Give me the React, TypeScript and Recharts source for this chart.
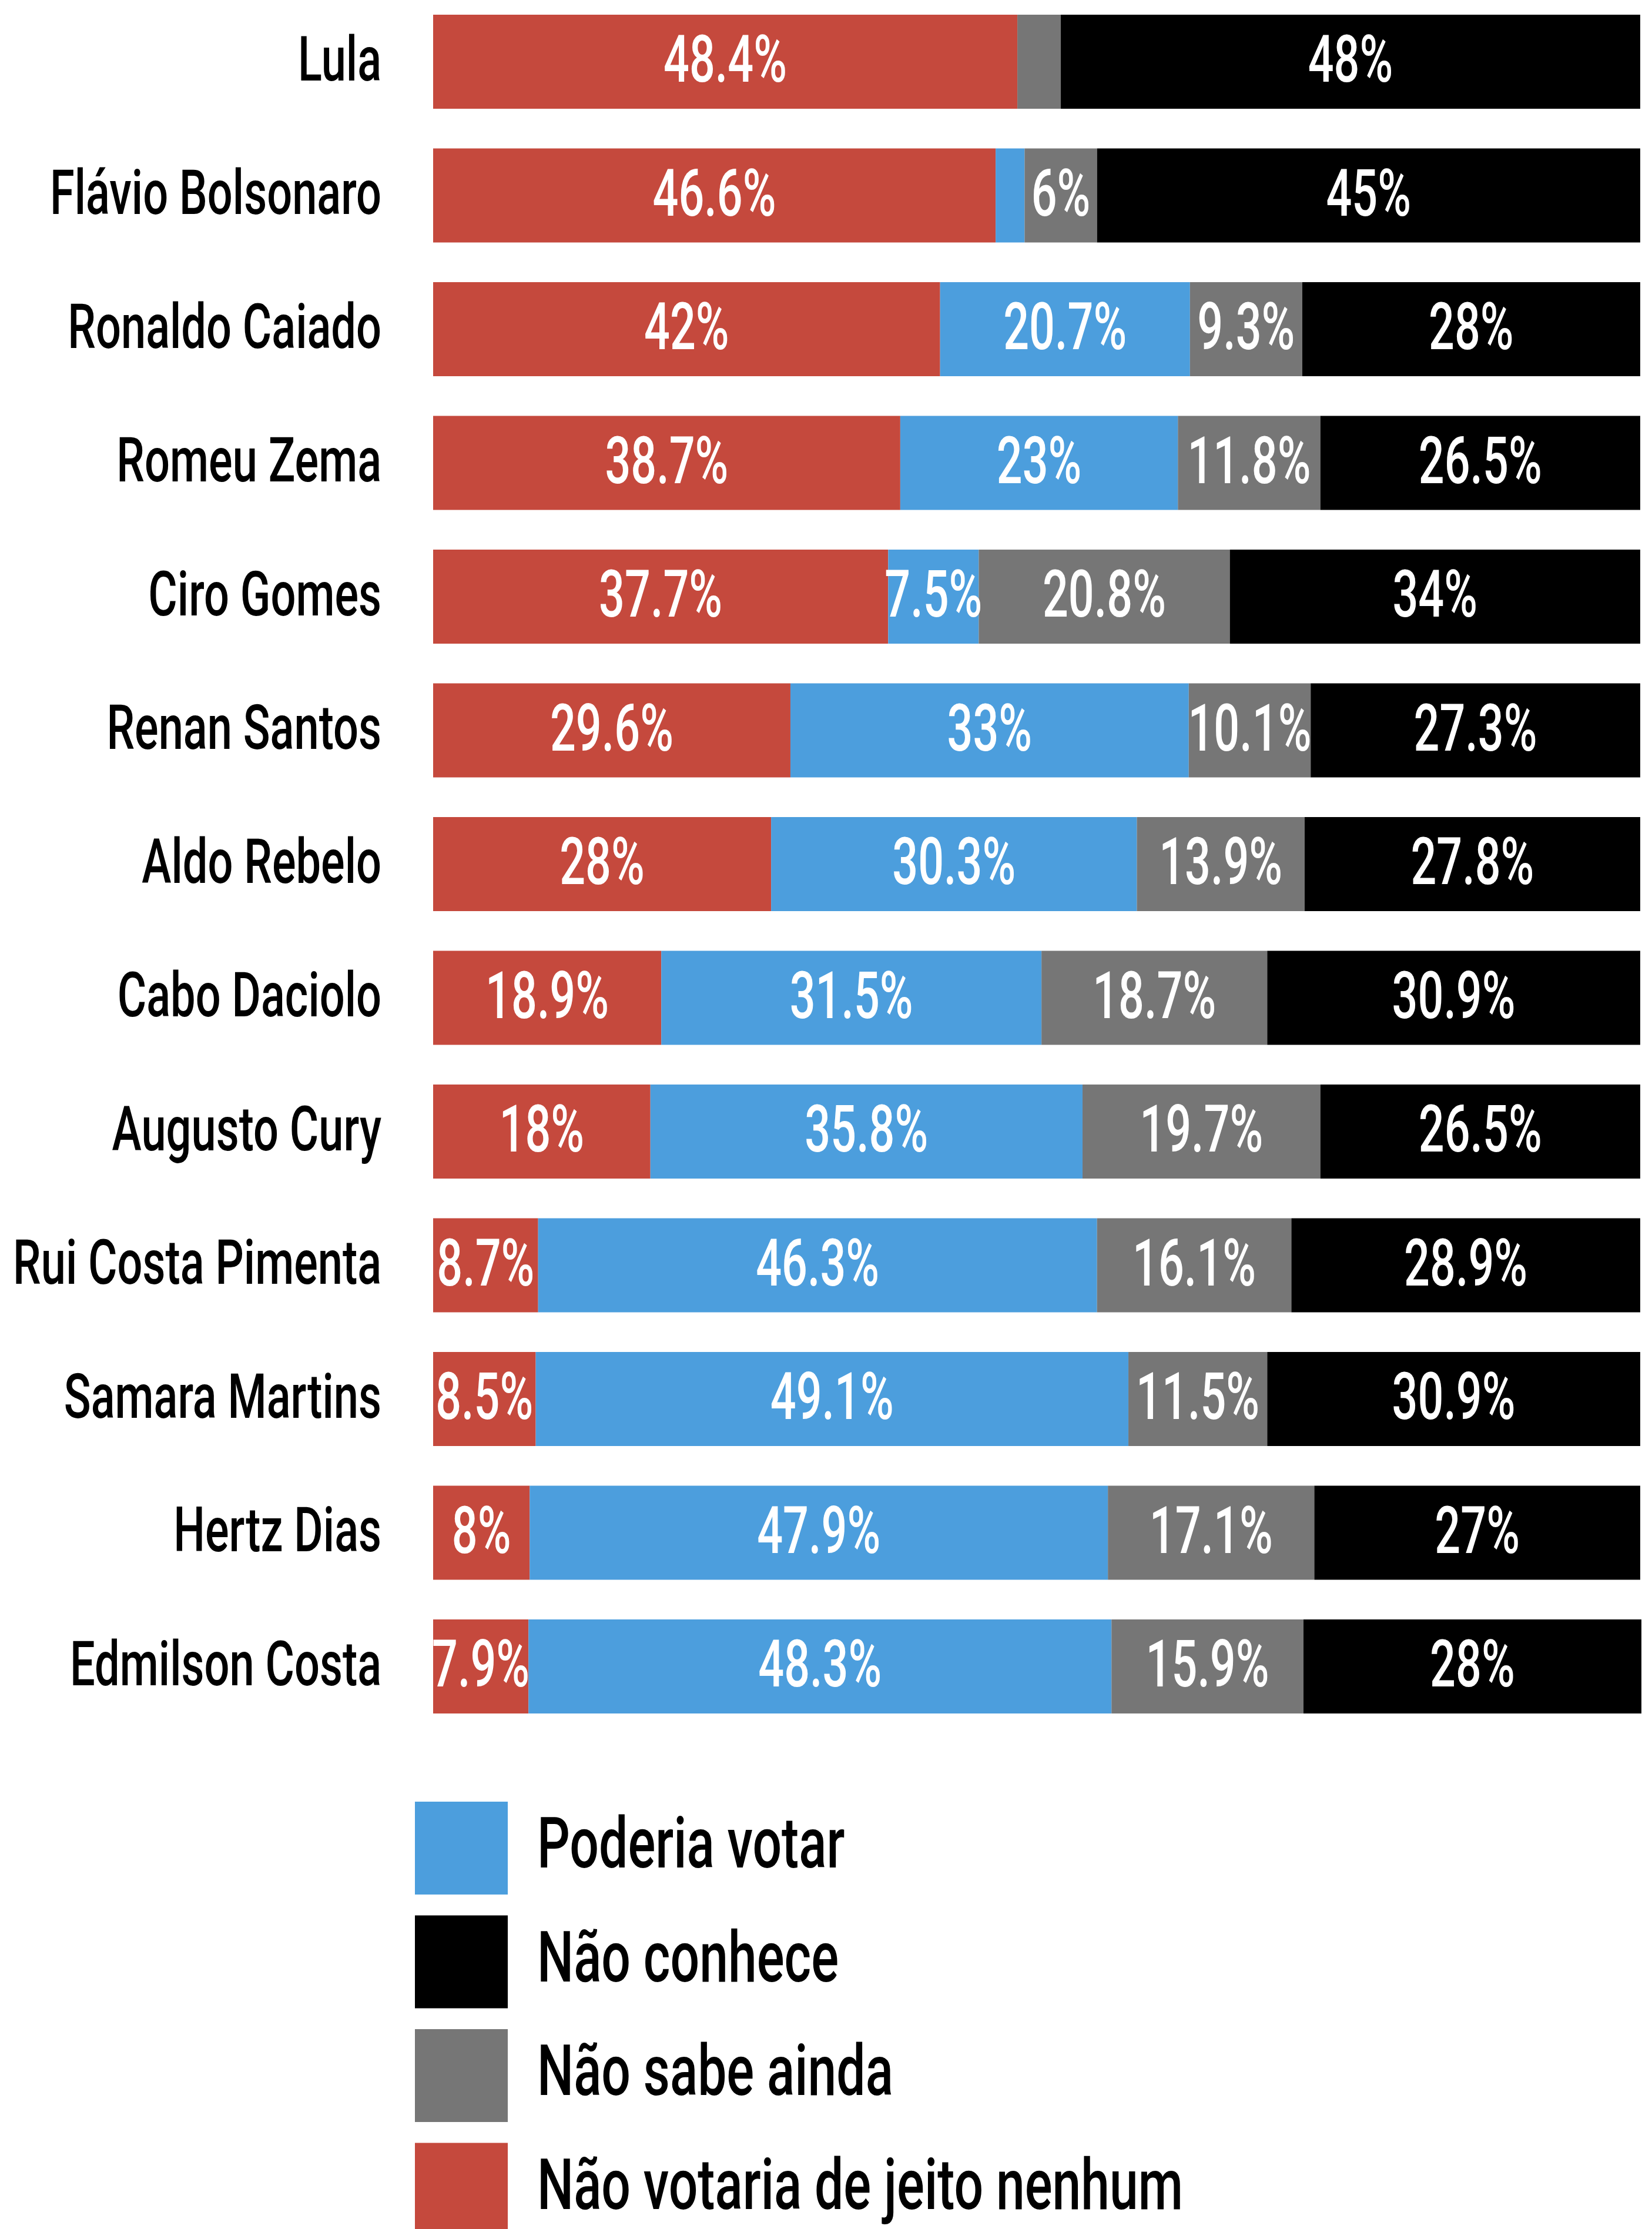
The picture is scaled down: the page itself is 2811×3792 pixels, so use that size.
import React from 'react';
import { BarChart, Bar, XAxis, YAxis, LabelList, Legend } from 'recharts';

const candidates = [
  'Lula',
  'Flávio Bolsonaro',
  'Ronaldo Caiado',
  'Romeu Zema',
  'Ciro Gomes',
  'Renan Santos',
  'Aldo Rebelo',
  'Cabo Daciolo',
  'Augusto Cury',
  'Rui Costa Pimenta',
  'Samara Martins',
  'Hertz Dias',
  'Edmilson Costa',
];
const naoVotaria = [48.4, 46.6, 42, 38.7, 37.7, 29.6, 28, 18.9, 18, 8.7, 8.5, 8, 7.9];
const poderiaVotar = [0, 2.4, 20.7, 23, 7.5, 33, 30.3, 31.5, 35.8, 46.3, 49.1, 47.9, 48.3];
const naoSabe = [3.6, 6, 9.3, 11.8, 20.8, 10.1, 13.9, 18.7, 19.7, 16.1, 11.5, 17.1, 15.9];
const naoConhece = [48, 45, 28, 26.5, 34, 27.3, 27.8, 30.9, 26.5, 28.9, 30.9, 27, 28];

// stacking order, left to right
const series = [
  { key: 'naoVotaria', name: 'Não votaria de jeito nenhum', color: '#c5493d' },
  { key: 'poderiaVotar', name: 'Poderia votar', color: '#4c9edd' },
  { key: 'naoSabe', name: 'Não sabe ainda', color: '#767676' },
  { key: 'naoConhece', name: 'Não conhece', color: '#000000' },
];
const legendOrder = ['poderiaVotar', 'naoConhece', 'naoSabe', 'naoVotaria'];

const data = candidates.map((name, i) => ({
  name,
  naoVotaria: naoVotaria[i],
  poderiaVotar: poderiaVotar[i],
  naoSabe: naoSabe[i],
  naoConhece: naoConhece[i],
}));

const FONT = 'Roboto, "Liberation Sans", sans-serif';

if (typeof document !== 'undefined') document.body.style.margin = '0';

function CandidateTick(props: any) {
  const { x, y, payload } = props;
  return (
    <g transform={`translate(${x},${y}) scale(0.715,1)`}>
      <text x={0} y={0} dy={32} textAnchor="end" fontFamily={FONT} fontWeight={500} fontSize={106} fill="#000">
        {payload.value}
      </text>
    </g>
  );
}

function renderSegmentLabel(props: any) {
  const { x, y, width, height, value } = props;
  if (value == null || value < 5) return null;
  const cx = Number(x) + Number(width) / 2;
  const cy = Number(y) + Number(height) / 2;
  return (
    <g transform={`translate(${cx},${cy}) scale(0.69,1)`}>
      <text x={0} y={0} dy={34} textAnchor="middle" fontFamily={FONT} fontWeight={500} fontSize={112} fill="#fff">
        {`${value}%`}
      </text>
    </g>
  );
}

function LegendBlock() {
  const items = legendOrder.map((k) => series.find((s) => s.key === k)!);
  return (
    <svg width={1600} height={740}>
      {items.map((s, i) => (
        <g key={s.key} transform={`translate(0,${i * 193.5})`}>
          <rect x={0} y={0} width={158} height={158} fill={s.color} />
          <g transform="translate(208,112) scale(0.73,1)">
            <text x={0} y={0} fontFamily={FONT} fontWeight={500} fontSize={120} fill="#000">
              {s.name}
            </text>
          </g>
        </g>
      ))}
    </svg>
  );
}

export default function App() {
  return (
    <div style={{ position: 'relative', top: -9, width: 2811, height: 3801, background: '#fff' }}>
      <BarChart
        width={2811}
        height={3801}
        data={data}
        layout="vertical"
        margin={{ top: 0, right: 18, bottom: 843.5, left: 0 }}
        barSize={160}
      >
        <XAxis type="number" domain={[0, 100]} hide />
        <YAxis
          type="category"
          dataKey="name"
          width={737}
          tickSize={0}
          tickMargin={88}
          axisLine={false}
          tickLine={false}
          interval={0}
          tick={<CandidateTick />}
        />
        <Legend
          layout="horizontal"
          verticalAlign="middle"
          align="center"
          wrapperStyle={{ top: 3074, left: 706, width: 1600, height: 740 }}
          content={() => <LegendBlock />}
        />
        {series.map((s) => (
          <Bar key={s.key} dataKey={s.key} name={s.name} stackId="a" fill={s.color} isAnimationActive={false}>
            <LabelList dataKey={s.key} content={renderSegmentLabel} />
          </Bar>
        ))}
      </BarChart>
    </div>
  );
}
